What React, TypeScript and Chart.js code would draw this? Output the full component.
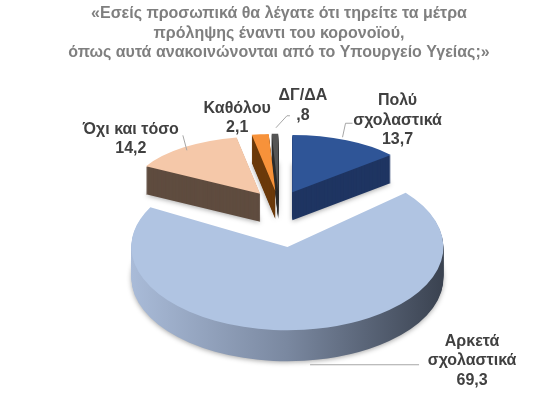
import React, { useEffect, useRef } from "react";
import { Chart, registerables } from "chart.js";

Chart.register(...registerables);

// ---------- data ----------
const TITLE_LINES = [
  "«Εσείς προσωπικά θα λέγατε ότι τηρείτε τα μέτρα",
  "πρόληψης έναντι του κορονοϊού,",
  "όπως αυτά ανακοινώνονται από το Υπουργείο Υγείας;»",
];
const CATEGORIES = ["Πολύ σχολαστικά", "Αρκετά σχολαστικά", "Όχι και τόσο", "Καθόλου", "ΔΓ/ΔΑ"];
const LABEL_LINES = [["Πολύ", "σχολαστικά"], ["Αρκετά", "σχολαστικά"], ["Όχι και τόσο"], ["Καθόλου"], ["ΔΓ/ΔΑ"]];
const VALUES = [13.7, 69.3, 14.2, 2.1, 0.8];

// ---------- style ----------
const TOP_COLORS = ["#2f5597", "#b0c4e2", "#f5c8a9", "#f7923a", "#555555"];
const SIDE_COLORS: (string | string[])[] = [
  "#1f3562",
  ["#a9bbd8", "#7a88a0", "#3a4250"],
  "#5f4c3f",
  "#6b3a0b",
  "#2e2e2e",
];
const RADIUS = 130;
const SCALE_X = [1, 1.2, 1, 1, 1];
const SCALE_Y = [0.44, 0.64, 0.44, 0.44, 0.44];
const EXPLODE = [32, 66, 32, 32, 32];
const DEPTH = [28, 31, 28, 28, 28];
const LABEL_OFFSET = [
  [51, -20],
  [168, 31],
  [-53, -8],
  [-23, -16],
  [28, -28],
];
const LEADERS = [
  [[-4, -3], [-1, -17], [6, -17]],
  [[6, 35], [115, 35]],
  [[3, 3], [-1, -12]],
  [],
  [[1, -6], [12, -18], [15, -18]],
];
const LABEL_FONT = "bold 16px 'Liberation Sans', Arial, sans-serif";
const LABEL_COLOR = "#404040";
const LINE_H = 19.5;

function fmt(v: number): string {
  return v.toFixed(1).replace(".", ",").replace(/^0,/, ",");
}

const pie3d = {
  id: "pie3d",
  beforeDatasetDraw() {
    return false;
  },
  afterDatasetsDraw(chart: any) {
    const ctx: CanvasRenderingContext2D = chart.ctx;
    const arcs: any[] = chart.getDatasetMeta(0).data;
    if (!arcs.length) return;
    const cx = arcs[0].x;
    const cy = arcs[0].y;
    const geom = arcs.map((arc, i) => {
      const mid = (arc.startAngle + arc.endAngle) / 2;
      return { mid, ex: Math.cos(mid) * EXPLODE[i], ey: Math.sin(mid) * EXPLODE[i] };
    });
    const paint = (i: number, fill: string | string[], dy: number, shadow: boolean) => {
      const arc = arcs[i];
      const g = geom[i];
      ctx.save();
      ctx.translate(cx, cy + dy);
      ctx.scale(SCALE_X[i], SCALE_Y[i]);
      ctx.translate(g.ex - cx, g.ey - cy);
      let style: any = fill;
      if (Array.isArray(fill)) {
        const R = arc.outerRadius;
        const grad = ctx.createLinearGradient(arc.x - R, 0, arc.x + R, 0);
        fill.forEach((c, k) => grad.addColorStop(k / (fill.length - 1), c));
        style = grad;
      }
      if (shadow) {
        ctx.shadowColor = "rgba(0,0,0,0.35)";
        ctx.shadowBlur = 5;
        ctx.shadowOffsetY = 1;
      }
      const proxy = Object.create(arc);
      proxy.options = Object.assign({}, arc.options, { backgroundColor: style, borderWidth: 0, offset: 0 });
      arc.draw.call(proxy, ctx);
      ctx.restore();
    };
    const maxDepth = Math.max(...DEPTH);
    for (let d = maxDepth; d >= 1; d--) {
      arcs.forEach((_, i) => {
        if (d <= DEPTH[i]) paint(i, SIDE_COLORS[i], d, d === DEPTH[i]);
      });
    }
    arcs.forEach((_, i) => paint(i, TOP_COLORS[i], 0, false));

    // labels
    ctx.save();
    ctx.font = LABEL_FONT;
    ctx.fillStyle = LABEL_COLOR;
    ctx.textAlign = "center";
    ctx.textBaseline = "middle";
    arcs.forEach((arc, i) => {
      const g = geom[i];
      const rr = arc.outerRadius + EXPLODE[i];
      const ax = cx + SCALE_X[i] * rr * Math.cos(g.mid);
      const ay = cy + SCALE_Y[i] * rr * Math.sin(g.mid);
      const pts = LEADERS[i];
      if (pts.length) {
        ctx.save();
        ctx.strokeStyle = "#a6a6a6";
        ctx.lineWidth = 1;
        ctx.beginPath();
        pts.forEach((p, k) => {
          if (k === 0) ctx.moveTo(ax + p[0], ay + p[1]);
          else ctx.lineTo(ax + p[0], ay + p[1]);
        });
        ctx.stroke();
        ctx.restore();
      }
      const lines = [...LABEL_LINES[i], fmt(VALUES[i])];
      const lx = ax + LABEL_OFFSET[i][0];
      const ly = ay + LABEL_OFFSET[i][1];
      const y0 = ly - ((lines.length - 1) / 2) * LINE_H;
      lines.forEach((t, k) => ctx.fillText(t, lx, y0 + k * LINE_H));
    });
    ctx.restore();
  },
};

export default function App() {
  const ref = useRef<HTMLCanvasElement | null>(null);
  useEffect(() => {
    if (!ref.current) return;
    const chart = new Chart(ref.current, {
      type: "pie",
      data: {
        labels: CATEGORIES,
        datasets: [
          {
            data: VALUES,
            backgroundColor: TOP_COLORS,
            borderWidth: 0,
          },
        ],
      },
      options: {
        responsive: false,
        animation: false,
        devicePixelRatio: 1,
        events: [],
        radius: RADIUS,
        layout: { padding: { top: 0, left: 5, right: 0, bottom: 49.5 } },
        plugins: {
          legend: { display: false },
          tooltip: { enabled: false },
          title: {
            display: true,
            text: TITLE_LINES,
            color: "#7f7f7f",
            font: { family: "'Liberation Sans', Arial, sans-serif", size: 16, weight: "bold", lineHeight: 1.22 },
            padding: { top: 4, bottom: 0 },
          },
        },
      } as any,
      plugins: [pie3d as any],
    });
    return () => chart.destroy();
  }, []);
  return (
    <div style={{ position: "fixed", left: 0, top: 0, width: 553, height: 397, background: "#fff" }}>
      <canvas ref={ref} width={553} height={397} />
    </div>
  );
}
